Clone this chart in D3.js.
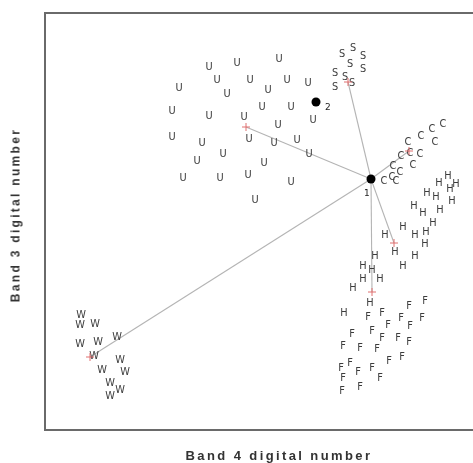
<!DOCTYPE html>
<html>
<head>
<meta charset="utf-8">
<script src="https://cdn.jsdelivr.net/npm/d3@7/dist/d3.min.js"></script>
<style>
  html, body { margin: 0; padding: 0; background: #fff; }
  svg { display: block; }
  .letters { filter: grayscale(100%); }
</style>
</head>
<body>
<svg id="chart" width="473" height="463"></svg>
<script>
// Training pixels per land-cover class: [band 4 DN, band 3 DN]
const classU = [[164,363],[192,367],[234,371],[134,342],[172,350],[205,350],[242,350],[263,347],
  [182,336],[223,340],[127,319],[164,314],[217,323],[246,323],[268,310],[199,313],[233,305],
  [127,293],[157,287],[204,291],[229,287],[252,290],[264,276],[178,276],[152,269],[219,267],
  [138,252],[175,252],[203,255],[246,248],[210,230]];
const classS = [[297,376],[308,382],[318,374],[305,366],[318,361],[290,357],[300,353],[290,343],[307,347]];
const classC = [[398,306],[387,301],[376,294],[390,288],[363,288],[375,276],[365,277],[356,274],
  [368,265],[348,264],[355,258],[347,253],[339,249],[351,249]];
const classH = [[403,254],[411,246],[394,247],[405,241],[382,237],[391,233],[407,229],[369,224],
  [378,217],[395,220],[388,207],[358,203],[340,195],[370,195],[381,198],[380,186],[350,178],
  [370,174],[358,164],[330,174],[318,164],[327,160],[318,151],[335,151],[308,142],[325,127],[299,117]];
const classF = [[380,129],[364,124],[337,117],[323,113],[377,112],[356,112],[343,105],[365,104],
  [327,99],[307,96],[353,92],[337,92],[364,88],[298,84],[315,82],[332,81],[357,73],[344,69],
  [305,67],[296,62],[313,58],[327,62],[298,52],[335,52],[297,39],[315,43]];
const classW = [[36,115],[35,105],[50,106],[72,93],[35,86],[53,88],[49,74],[75,70],[57,60],
  [80,58],[65,47],[75,40],[65,34]];

// Class means and the unknown pixels being classified
const meanNames = ["U","S","C","H","F","W"];
const meanBand4 = [201,303,364,349,327,45];
const meanBand3 = [303,348,279,187,138,73];
const unknownNames = ["1","2"];
const unknownBand4 = [326,271];
const unknownBand3 = [251,328];

const xTitle = "Band 4 digital number";
const yTitle = "Band 3 digital number";

const svg = d3.select("#chart");
const plotLeft = 45, plotTop = 13, plotRight = 473, plotBottom = 430;

const x = d3.scaleLinear().domain([0, 428]).range([plotLeft, plotRight]);
const y = d3.scaleLinear().domain([0, 417]).range([plotBottom, plotTop]);

// Plot frame (left, top, bottom edges)
const frame = svg.append("g").attr("stroke", "#6a6a6a").attr("stroke-width", 2).attr("fill", "none");
frame.append("line").attr("x1", plotLeft).attr("x2", plotRight).attr("y1", plotTop).attr("y2", plotTop);
frame.append("line").attr("x1", plotLeft).attr("x2", plotRight).attr("y1", plotBottom).attr("y2", plotBottom);
frame.append("line").attr("x1", plotLeft).attr("x2", plotLeft).attr("y1", plotTop - 1).attr("y2", plotBottom + 1);

// Distance lines from pixel 1 to every class mean
svg.append("g")
  .selectAll("line")
  .data(meanNames)
  .join("line")
  .attr("x1", x(unknownBand4[0]))
  .attr("y1", y(unknownBand3[0]))
  .attr("x2", (d, i) => x(meanBand4[i]))
  .attr("y2", (d, i) => y(meanBand3[i]))
  .attr("stroke", "#b4b4b4")
  .attr("stroke-width", 1.1);

// Training pixels drawn as their class letter
const classes = [["U", classU], ["S", classS], ["C", classC], ["H", classH], ["F", classF], ["W", classW]];
const pts = svg.append("g")
  .attr("class", "letters")
  .attr("font-family", "DejaVu Sans, sans-serif")
  .attr("font-size", 9.8)
  .attr("fill", "#3c3c3c")
  .attr("text-anchor", "middle");
classes.forEach(([name, rows]) => {
  pts.selectAll(null)
    .data(rows)
    .join("text")
    .attr("x", d => x(d[0]))
    .attr("y", d => y(d[1]))
    .attr("dy", "0.35em")
    .text(name);
});

// Class means: small red crosses
const cross = svg.append("g").attr("stroke", "#e07070").attr("stroke-width", 1);
meanNames.forEach((n, i) => {
  const cx = x(meanBand4[i]), cy = y(meanBand3[i]);
  cross.append("line").attr("x1", cx - 4).attr("x2", cx + 4).attr("y1", cy).attr("y2", cy);
  cross.append("line").attr("x1", cx).attr("x2", cx).attr("y1", cy - 4).attr("y2", cy + 4);
});

// Unknown pixels
svg.append("g")
  .selectAll("circle")
  .data(unknownNames)
  .join("circle")
  .attr("cx", (d, i) => x(unknownBand4[i]))
  .attr("cy", (d, i) => y(unknownBand3[i]))
  .attr("r", 4.5)
  .attr("fill", "#000");
svg.append("g")
  .attr("class", "letters")
  .attr("font-family", "DejaVu Sans, sans-serif")
  .attr("font-size", 9)
  .attr("fill", "#222")
  .selectAll("text")
  .data(unknownNames)
  .join("text")
  .attr("x", (d, i) => x(unknownBand4[i]) + (i === 0 ? -7 : 9))
  .attr("y", (d, i) => y(unknownBand3[i]) + (i === 0 ? 17 : 8))
  .text(d => d);

// Axis titles
const titles = svg.append("g")
  .attr("class", "letters")
  .attr("font-family", "Liberation Sans, Arial, sans-serif")
  .attr("font-weight", "bold")
  .attr("fill", "#333")
  .attr("text-anchor", "middle");
titles.append("text")
  .attr("x", 279)
  .attr("y", 460)
  .attr("font-size", 13)
  .attr("letter-spacing", 2.4)
  .text(xTitle);
titles.append("text")
  .attr("transform", "translate(15.5,215) rotate(-90)")
  .attr("dy", "0.35em")
  .attr("font-size", 12)
  .attr("letter-spacing", 2.3)
  .text(yTitle);
</script>
</body>
</html>
